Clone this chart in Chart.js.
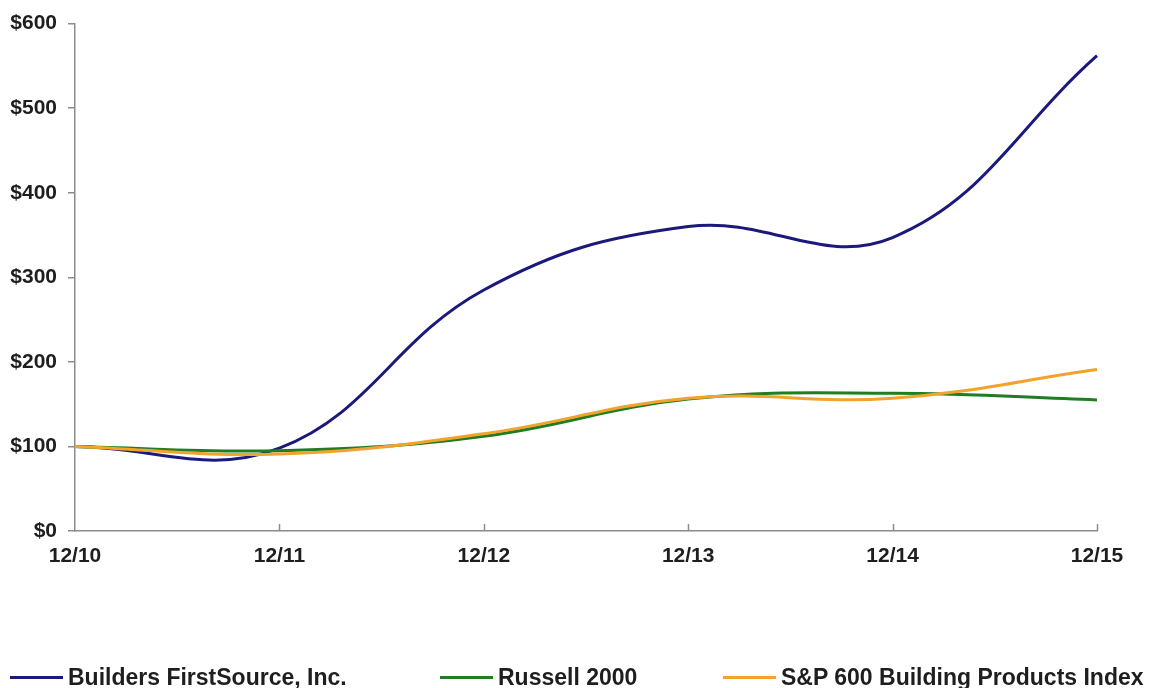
<!DOCTYPE html>
<html>
<head>
<meta charset="utf-8">
<script src="https://cdn.jsdelivr.net/npm/chart.js@4.4.1/dist/chart.umd.min.js"></script>
<style>
  html, body { margin: 0; padding: 0; background: #fff; }
  #wrap { position: relative; width: 1164px; height: 688px; }
  #legend { position: absolute; left: 0; top: 663px; width: 1164px; height: 28px;
    font: bold 23px "Liberation Sans", Arial, sans-serif; color: #1e1e1e; }
  .item { position: absolute; top: 0; height: 28px; display: flex; align-items: center; white-space: nowrap; }
  .swatch { width: 53px; height: 3px; margin-right: 5px; }
</style>
</head>
<body>
<div id="wrap">
  <canvas id="perf" width="1164" height="688"></canvas>
  <div id="legend"></div>
</div>
<script>
const years = ["12/10", "12/11", "12/12", "12/13", "12/14", "12/15"];
const builders = [100, 98, 285, 360, 347, 562];
const russell = [100, 95, 112, 156, 163, 155];
const spBuilding = [100, 91, 115, 157, 157, 191];
const seriesNames = ["Builders FirstSource, Inc.", "Russell 2000", "S&P 600 Building Products Index"];
const seriesColors = ["#1b1a7c", "#1f7d22", "#f2a32e"];
const legendLeft = [10, 440, 723];

const axisGray = "#8c8c8c";

// small inward tick marks on the category axis
const innerTicks = {
  id: "innerTicks",
  afterDraw(chart){
    const x = chart.scales.x;
    const ctx = chart.ctx;
    ctx.save();
    ctx.strokeStyle = axisGray;
    ctx.lineWidth = 1.5;
    for (let i = 1; i < years.length; i++){
      const px = Math.round(x.getPixelForTick(i)) + 0.5;
      ctx.beginPath();
      ctx.moveTo(px, x.top);
      ctx.lineTo(px, x.top - 7);
      ctx.stroke();
    }
    ctx.restore();
  }
};

function line(label, data, color, order){
  return {
    label: label,
    data: data,
    borderColor: color,
    backgroundColor: color,
    borderWidth: 3,
    pointRadius: 0,
    tension: 0.4,
    fill: false,
    order: order
  };
}

new Chart("perf", {
  type: "line",
  data: {
    labels: years,
    datasets: [
      line(seriesNames[0], builders, seriesColors[0], 2),
      line(seriesNames[1], russell, seriesColors[1], 1),
      line(seriesNames[2], spBuilding, seriesColors[2], 0)
    ]
  },
  options: {
    responsive: false,
    animation: false,
    layout: { padding: { top: 23, right: 67, bottom: 117, left: 0 } },
    plugins: { legend: { display: false }, tooltip: { enabled: false } },
    scales: {
      x: {
        offset: false,
        grid: { display: true, drawOnChartArea: false, drawTicks: false },
        border: { display: true, color: axisGray, width: 1.5 },
        ticks: {
          padding: 13,
          color: "#1e1e1e",
          maxRotation: 0,
          autoSkip: false,
          font: { family: "Liberation Sans", weight: "bold", size: 21 }
        },
        afterFit(scale){ scale.height = 40; }
      },
      y: {
        min: 0,
        max: 600,
        grid: { drawOnChartArea: false, drawTicks: true, tickLength: 7, color: axisGray, lineWidth: 1.5 },
        border: { display: true, color: axisGray, width: 1.5 },
        ticks: {
          stepSize: 100,
          padding: 11,
          color: "#1e1e1e",
          font: { family: "Liberation Sans", weight: "bold", size: 21 },
          callback: v => "$" + v
        },
        afterFit(scale){ scale.width = 75; }
      }
    }
  },
  plugins: [innerTicks]
});

let html = "";
for (let i = 0; i < seriesNames.length; i++){
  html += `
  <div class="item" style="left:${legendLeft[i]}px">
    <span class="swatch" style="background:${seriesColors[i]}"></span>${seriesNames[i]}
  </div>`;
}
document.getElementById("legend").innerHTML = html;
</script>
</body>
</html>
